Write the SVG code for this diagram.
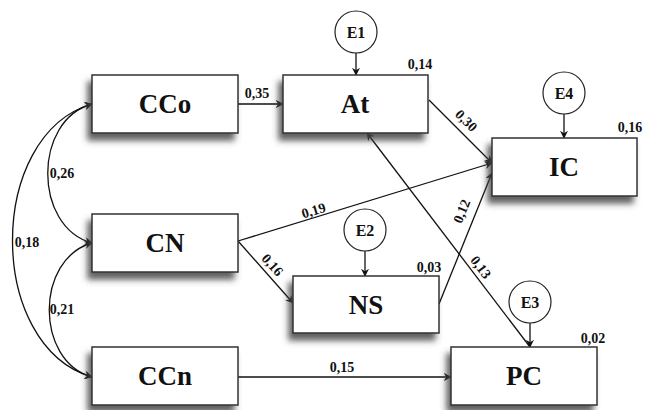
<svg xmlns="http://www.w3.org/2000/svg" width="652" height="410" viewBox="0 0 652 410">
<style>
.box{fill:#fff;stroke:#333;stroke-width:1.5;filter:url(#sh)}
.err{fill:#fff;stroke:#222;stroke-width:1.2}
.lbl{font-family:"Liberation Serif","Times New Roman",serif;font-weight:bold;font-size:27px;text-anchor:middle;fill:#111}
.elbl{font-family:"Liberation Serif","Times New Roman",serif;font-weight:bold;font-size:16px;text-anchor:middle;fill:#111}
.num{font-family:"Liberation Serif","Times New Roman",serif;font-weight:bold;font-size:14px;text-anchor:middle;fill:#111}
.ln{fill:none;stroke:#111;stroke-width:1.3;marker-end:url(#ah)}
.cv{fill:none;stroke:#111;stroke-width:1.3;marker-start:url(#ahs);marker-end:url(#ah)}
</style>
<defs>
<filter id="sh" x="-20%" y="-20%" width="140%" height="160%">
<feDropShadow dx="-4" dy="7" stdDeviation="3" flood-color="#444" flood-opacity="0.85"/>
</filter>
<marker id="ah" viewBox="0 0 10 10" refX="9" refY="5" markerWidth="8" markerHeight="8" markerUnits="userSpaceOnUse" orient="auto">
<path d="M0,0 L10,5 L0,10 L3,5 z" fill="#111"/>
</marker>
<marker id="ahs" viewBox="0 0 10 10" refX="1" refY="5" markerWidth="8" markerHeight="8" markerUnits="userSpaceOnUse" orient="auto">
<path d="M10,0 L0,5 L10,10 L7,5 z" fill="#111"/>
</marker>
</defs>
<g id="connectors">
<path class="ln" d="M238,104 L283,104"/>
<path class="ln" d="M429,100 L492,163"/>
<path class="ln" d="M238,241 L492,163"/>
<path class="ln" d="M238,241 L293,303"/>
<path class="ln" d="M439,304 L492,173"/>
<path class="ln" d="M530,347 L367,133"/>
<path class="ln" d="M238,377 L451,377"/>
<path class="ln" d="M356,53 L356,75"/>
<path class="ln" d="M564,114 L564,138"/>
<path class="ln" d="M365,251 L365,276"/>
<path class="ln" d="M530,323 L530,347"/>
<path class="cv" d="M92,104 C33,120 33,227 92,243"/>
<path class="cv" d="M92,243 C35,259 35,361 92,377"/>
<path class="cv" d="M92,104 C-14,135 -14,346 92,377"/>
<text class="num" x="257" y="98">0,35</text>
<text class="num" transform="translate(463,124) rotate(45)">0,30</text>
<text class="num" transform="translate(315,215) rotate(-17)">0,19</text>
<text class="num" transform="translate(269,268) rotate(48)">0,16</text>
<text class="num" transform="translate(466,213) rotate(-68)">0,12</text>
<text class="num" transform="translate(477,270) rotate(53)">0,13</text>
<text class="num" x="342" y="372">0,15</text>
<text class="num" x="62" y="178">0,26</text>
<text class="num" x="62" y="314">0,21</text>
<text class="num" x="27" y="247">0,18</text>
</g>
<g id="CCo"><rect class="box" x="92" y="75" width="146" height="58"/><text class="lbl" x="165" y="113">CCo</text></g>
<g id="At"><rect class="box" x="283" y="75" width="145" height="58"/><text class="lbl" x="355" y="113">At</text><text class="num" x="420" y="69">0,14</text></g>
<g id="IC"><rect class="box" x="492" y="138" width="145" height="58"/><text class="lbl" x="564" y="176">IC</text><text class="num" x="630" y="132">0,16</text></g>
<g id="CN"><rect class="box" x="92" y="214" width="146" height="58"/><text class="lbl" x="165" y="252">CN</text></g>
<g id="NS"><rect class="box" x="293" y="276" width="146" height="57"/><text class="lbl" x="366" y="314">NS</text><text class="num" x="429" y="272">0,03</text></g>
<g id="CCn"><rect class="box" x="92" y="347" width="146" height="58"/><text class="lbl" x="165" y="385">CCn</text></g>
<g id="PC"><rect class="box" x="451" y="347" width="146" height="58"/><text class="lbl" x="524" y="385">PC</text><text class="num" x="593" y="343">0,02</text></g>
<g id="E1"><circle class="err" cx="356" cy="32" r="21"/><text class="elbl" x="356" y="38">E1</text></g>
<g id="E4"><circle class="err" cx="564" cy="93" r="21"/><text class="elbl" x="564" y="99">E4</text></g>
<g id="E2"><circle class="err" cx="365" cy="230" r="21"/><text class="elbl" x="365" y="236">E2</text></g>
<g id="E3"><circle class="err" cx="530" cy="302" r="21"/><text class="elbl" x="530" y="308">E3</text></g>
</svg>
